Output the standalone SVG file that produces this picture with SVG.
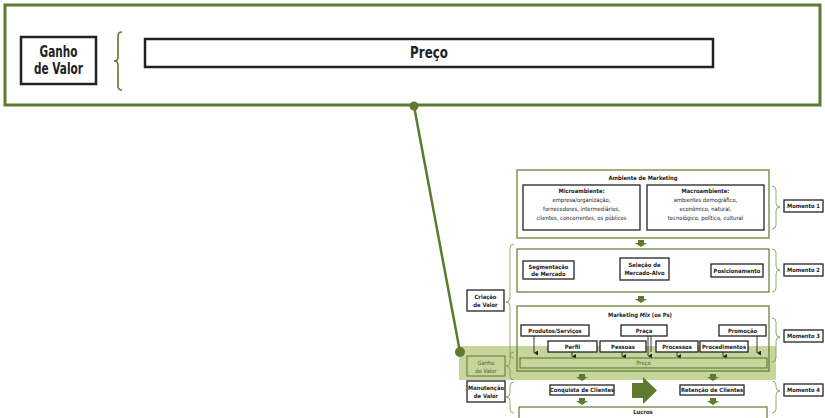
<svg xmlns="http://www.w3.org/2000/svg" width="825" height="418" viewBox="0 0 825 418">
<style>
.g{fill:none;stroke:#5e7a2e}
.bx{fill:#fff;stroke:#222;stroke-width:1.3}
.bxb{fill:#fff;stroke:#222;stroke-width:2.5}
.br{fill:none;stroke:#7d9550;stroke-width:0.8}
.t{font-family:"DejaVu Sans","Liberation Sans",sans-serif;font-stretch:condensed;fill:#222;text-anchor:middle}
.s{font-size:5.8px}
.b{font-weight:bold}
.big{font-size:15px;font-weight:bold}
.ar{fill:#5e7a2e}
.ln{stroke:#222;stroke-width:0.9;fill:none}
</style>
<defs>
<marker id="ah" markerWidth="5" markerHeight="5" refX="2.5" refY="4" orient="auto" markerUnits="userSpaceOnUse">
<path d="M0,0 L5,0 L2.5,4 Z" fill="#222"/>
</marker>
</defs>
<rect width="825" height="418" fill="#fff"/>

<g id="top-panel">
<rect x="5" y="5" width="815" height="100" class="g" stroke-width="3"/>
<path d="M122,32 Q118,32 118,36 L118,57 Q118,61 114,61 Q118,61 118,65 L118,86 Q118,90 122,90" fill="none" stroke="#5e7a2e" stroke-width="1.6"/>
</g>
<g id="top-ganho">
<rect x="21" y="37" width="75" height="47" class="bxb"/>
<text class="t big" transform="translate(58.5,57) scale(0.78,1)">Ganho</text>
<text class="t big" transform="translate(58.5,74) scale(0.78,1)">de Valor</text>
</g>
<g id="top-preco">
<rect x="145" y="39" width="568" height="28" class="bxb"/>
<text class="t big" transform="translate(429,58) scale(0.88,1)">Preço</text>
</g>

<g id="band">
<rect x="459" y="346" width="317" height="34" fill="#c6d59c"/>
</g>

<g id="connectors">
<line x1="414" y1="106" x2="460" y2="352" stroke="#5e7a2e" stroke-width="2.5"/>
<circle cx="414" cy="106" r="4.5" fill="#5e7a2e"/>
<circle cx="460" cy="352" r="5" fill="#5e7a2e"/>
<path class="ar" d="M638,240 h6 v3 h3 l-6,4 l-6,-4 h3 Z"/>
<path class="ar" d="M638,296 h6 v3 h3 l-6,4 l-6,-4 h3 Z"/>
<path class="ar" d="M579,374 h6 v3 h3 l-6,4 l-6,-4 h3 Z"/>
<path class="ar" d="M710,374 h6 v3 h3 l-6,4 l-6,-4 h3 Z"/>
<path class="ar" d="M579,398 h6 v3 h3 l-6,4 l-6,-4 h3 Z"/>
<path class="ar" d="M710,398 h6 v3 h3 l-6,4 l-6,-4 h3 Z"/>
<path class="ar" d="M632,383 h11 v-6 l14,13.5 l-14,13.5 v-6 h-11 Z"/>
<line class="ln" x1="534" y1="336" x2="534" y2="353" marker-end="url(#ah)"/>
<line class="ln" x1="757" y1="336" x2="757" y2="353" marker-end="url(#ah)"/>
<line class="ln" x1="648" y1="336" x2="648" y2="356" marker-end="url(#ah)"/>
<line class="ln" x1="651" y1="336" x2="651" y2="352"/>
<line class="ln" x1="572" y1="352" x2="572" y2="356.5" marker-end="url(#ah)"/>
<line class="ln" x1="622" y1="352" x2="622" y2="356.5" marker-end="url(#ah)"/>
<line class="ln" x1="677" y1="352" x2="677" y2="356.5" marker-end="url(#ah)"/>
<line class="ln" x1="723" y1="352" x2="723" y2="356.5" marker-end="url(#ah)"/>
</g>

<g id="braces">
<path class="br" d="M772,186 Q776,186 776,190 L776,203 Q776,207 780,207 Q776,207 776,211 L776,225 Q776,229 772,229"/>
<path class="br" d="M772,249 Q776,249 776,253 L776,266 Q776,270 780,270 Q776,270 776,274 L776,288 Q776,292 772,292"/>
<path class="br" d="M772,318 Q776,318 776,322 L776,333 Q776,337 780,337 Q776,337 776,341 L776,358 Q776,362 772,362"/>
<path class="br" d="M772,381 Q776,381 776,385 L776,387 Q776,391 780,391 Q776,391 776,395 L776,409 Q776,413 772,413"/>
<path class="br" d="M514,244 Q510,244 510,248 L510,298 Q510,302 506,302 Q510,302 510,306 L510,354 Q510,358 514,358"/>
<path class="br" d="M514,352 Q510,352 510,356 L510,362 Q510,366 506,366 Q510,366 510,370 L510,376 Q510,380 514,380"/>
<path class="br" d="M514,382 Q510,382 510,386 L510,393 Q510,397 506,397 Q510,397 510,401 L510,409 Q510,413 514,413"/>
</g>

<g id="ambiente">
<rect x="517" y="170" width="252" height="68" fill="#fff" stroke="#5e7a2e" stroke-width="1.2"/>
<text class="t s b" x="643" y="180">Ambiente de Marketing</text>
</g>
<g id="micro">
<rect x="523" y="185" width="117" height="45" class="bx"/>
<text class="t s b" x="581.5" y="193">Microambiente:</text>
<text class="t s" x="581.5" y="202">empresa/organização,</text>
<text class="t s" x="581.5" y="211">fornecedores, intermediários,</text>
<text class="t s" x="581.5" y="220">clientes, concorrentes, os públicos</text>
</g>
<g id="macro">
<rect x="647" y="185" width="117" height="45" class="bx"/>
<text class="t s b" x="705.5" y="193">Macroambiente:</text>
<text class="t s" x="705.5" y="202">ambientes demográfico,</text>
<text class="t s" x="705.5" y="211">econômico, natural,</text>
<text class="t s" x="705.5" y="220">tecnológico, político, cultural</text>
</g>

<g id="momento2-box">
<rect x="517" y="249" width="252" height="43" fill="#fff" stroke="#5e7a2e" stroke-width="1.2"/>
</g>
<g id="segmentacao">
<rect x="523" y="261" width="51" height="18" class="bx"/>
<text class="t s b" x="548.5" y="268.5">Segmentação</text>
<text class="t s b" x="548.5" y="276">de Mercado</text>
</g>
<g id="selecao">
<rect x="620" y="258" width="49" height="22" class="bx"/>
<text class="t s b" x="644.5" y="267">Seleção de</text>
<text class="t s b" x="644.5" y="275">Mercado-Alvo</text>
</g>
<g id="posicionamento">
<rect x="711" y="264" width="52" height="13" class="bx"/>
<text class="t s b" x="737" y="272.5">Posicionamento</text>
</g>

<g id="mix">
<rect x="517" y="306" width="252" height="65" fill="none" stroke="#5e7a2e" stroke-width="1.2"/>
<text class="t s b" x="640" y="317">Marketing <tspan font-style="italic">Mix</tspan> (os Ps)</text>
</g>
<g id="produtos">
<rect x="521" y="325" width="68" height="11" class="bx"/>
<text class="t s b" x="555" y="332.5">Produtos/Serviços</text>
</g>
<g id="praca">
<rect x="621" y="325" width="46" height="11" class="bx"/>
<text class="t s b" x="644" y="332.5">Praça</text>
</g>
<g id="promocao">
<rect x="719" y="325" width="47" height="11" class="bx"/>
<text class="t s b" x="742.5" y="332.5">Promoção</text>
</g>
<g id="perfil">
<rect x="548" y="341" width="49" height="11" class="bx"/>
<text class="t s b" x="572.5" y="348.5">Perfil</text>
</g>
<g id="pessoas">
<rect x="600" y="341" width="46" height="11" class="bx"/>
<text class="t s b" x="623" y="348.5">Pessoas</text>
</g>
<g id="processos">
<rect x="656" y="341" width="42" height="11" class="bx"/>
<text class="t s b" x="677" y="348.5">Processos</text>
</g>
<g id="procedimentos">
<rect x="700" y="341" width="48" height="11" class="bx"/>
<text class="t s b" x="724" y="348.5">Procedimentos</text>
</g>
<g id="preco-small">
<rect x="520" y="358" width="247" height="10" fill="#c6d59c" stroke="#5e7a2e" stroke-width="1.1"/>
<text class="t s" x="643.5" y="365" style="fill:#4e6428">Preço</text>
</g>

<g id="criacao">
<rect x="467" y="290" width="37" height="21" class="bx"/>
<text class="t s b" x="485.5" y="299">Criação</text>
<text class="t s b" x="485.5" y="307">de Valor</text>
</g>
<g id="ganho-small">
<rect x="467" y="356" width="38" height="20" fill="#c6d59c" stroke="#5e7a2e" stroke-width="1"/>
<text class="t s" x="486" y="364.5" style="fill:#4e6428">Ganho</text>
<text class="t s" x="486" y="372.5" style="fill:#4e6428">de Valor</text>
</g>
<g id="manutencao">
<rect x="467" y="381" width="38" height="21" class="bx"/>
<text class="t s b" x="486" y="389.5">Manutenção</text>
<text class="t s b" x="486" y="397.5">de Valor</text>
</g>

<g id="conquista">
<rect x="550" y="385" width="64" height="10" class="bx"/>
<text class="t s b" x="582" y="392">Conquista de Clientes</text>
</g>
<g id="retencao">
<rect x="680" y="385" width="64" height="10" class="bx"/>
<text class="t s b" x="712" y="392">Retenção de Clientes</text>
</g>
<g id="lucros">
<rect x="519" y="407" width="248" height="20" fill="#fff" stroke="#5e7a2e" stroke-width="1.2"/>
<text class="t s b" x="643" y="414">Lucros</text>
</g>

<g id="momento1"><rect x="784" y="200" width="39" height="12" class="bx"/><text class="t s b" x="803.5" y="208">Momento 1</text></g>
<g id="momento2"><rect x="784" y="264" width="39" height="12" class="bx"/><text class="t s b" x="803.5" y="272">Momento 2</text></g>
<g id="momento3"><rect x="784" y="330" width="39" height="12" class="bx"/><text class="t s b" x="803.5" y="338">Momento 3</text></g>
<g id="momento4"><rect x="784" y="384" width="39" height="12" class="bx"/><text class="t s b" x="803.5" y="392">Momento 4</text></g>
</svg>
